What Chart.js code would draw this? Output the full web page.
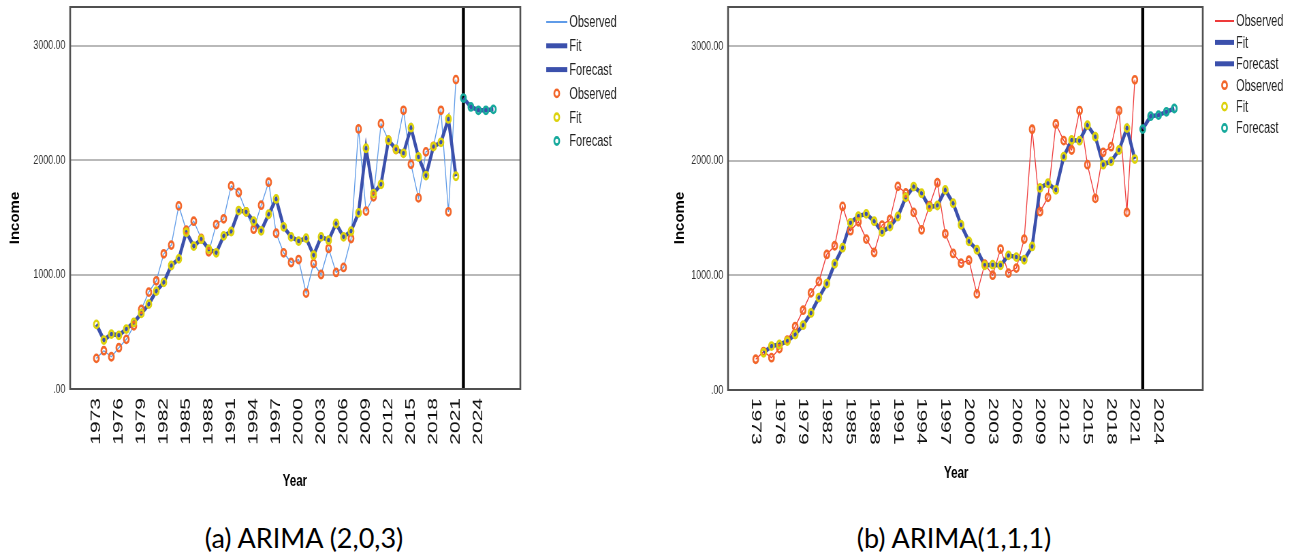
<!DOCTYPE html>
<html>
<head>
<meta charset="utf-8">
<script src="https://cdn.jsdelivr.net/npm/chart.js@4.4.1/dist/chart.umd.min.js"></script>
<style>
  html, body { margin: 0; padding: 0; background: #fff; }
  body { width: 1294px; height: 552px; position: relative; overflow: hidden; }
  canvas { position: absolute; top: 0; }
  .caption {
    position: absolute; top: 521px;
    font-family: Lato, "Open Sans", sans-serif; font-size: 27px; color: #000;
    white-space: nowrap; transform: translateX(-50%);
  }
</style>
</head>
<body>
<!-- canvases are drawn wide and shown squeezed, like the original narrow SPSS export -->
<canvas id="chartA" width="950" height="500" style="left:0px;width:647px;height:500px"></canvas>
<canvas id="chartB" width="950" height="500" style="left:647px;width:647px;height:500px"></canvas>
<div class="caption" style="left:304px">(a) ARIMA (2,0,3)</div>
<div class="caption" style="left:954px">(b) ARIMA(1,1,1)</div>
<script>
// Years of observed data and of the forecast
const years = [1973, 1974, 1975, 1976, 1977, 1978, 1979, 1980, 1981, 1982,
  1983, 1984, 1985, 1986, 1987, 1988, 1989, 1990, 1991, 1992,
  1993, 1994, 1995, 1996, 1997, 1998, 1999, 2000, 2001, 2002,
  2003, 2004, 2005, 2006, 2007, 2008, 2009, 2010, 2011, 2012,
  2013, 2014, 2015, 2016, 2017, 2018, 2019, 2020, 2021];
const forecastYears = [2022, 2023, 2024, 2025, 2026];
const forecastStart = 2022;

// Axis tick labels
const tickYears = [1973, 1976, 1979, 1982, 1985, 1988, 1991, 1994, 1997,
  2000, 2003, 2006, 2009, 2012, 2015, 2018, 2021, 2024];
const incomeTicks = [0, 1000, 2000, 3000];

// Observed income (same series in both panels)
const observed = [268, 335, 282, 361, 434, 553, 696, 847, 946, 1182,
  1258, 1601, 1389, 1467, 1316, 1199, 1438, 1488, 1776, 1718,
  1549, 1397, 1607, 1808, 1362, 1191, 1106, 1132, 838, 1098,
  1001, 1229, 1019, 1063, 1316, 2274, 1555, 1680, 2320, 2175,
  2093, 2437, 1965, 1671, 2073, 2122, 2437, 1549, 2705];

// (a) ARIMA(2,0,3)
const fitA = [565, 428, 480, 469, 524, 582, 661, 742, 856, 932,
  1080, 1138, 1371, 1249, 1310, 1223, 1191, 1339, 1377, 1560,
  1549, 1467, 1383, 1528, 1662, 1418, 1330, 1293, 1319, 1170,
  1330, 1301, 1447, 1330, 1380, 1540, 2105, 1709, 1790, 2175,
  2096, 2061, 2285, 2029, 1866, 2119, 2157, 2361, 1860];
const forecastA = [2544, 2466, 2437, 2437, 2445];

// (b) ARIMA(1,1,1) - no fitted value for the first year
const fitB = [null, 325, 383, 397, 426, 484, 565, 672, 806, 928,
  1101, 1241, 1458, 1516, 1536, 1472, 1377, 1426, 1513, 1681,
  1774, 1716, 1594, 1609, 1745, 1629, 1441, 1296, 1223, 1087,
  1093, 1087, 1174, 1159, 1136, 1252, 1762, 1803, 1745, 2035,
  2180, 2174, 2310, 2209, 1965, 1994, 2093, 2284, 2014];
const forecastB = [2275, 2388, 2397, 2426, 2455];

const FIT_BLUE = '#3b50ac';
const ORANGE = '#f2662a';
const YELLOW = '#dcd20c';
const TEAL = '#16a99c';
const FONT = '"Liberation Sans", Arial, sans-serif';

function toPoints(xs, ys) {
  return xs.map((x, i) => ({ x: x, y: ys[i] }));
}

function buildDatasets(obsColor, fit, forecast) {
  const ring = (color) => ({
    showLine: false, pointRadius: 3.6, pointHoverRadius: 3.6, pointBorderWidth: 2.6,
    pointBorderColor: color, pointBackgroundColor: 'rgba(0,0,0,0)', borderColor: color
  });
  return [
    { label: 'Observed', data: toPoints(years, observed), borderColor: obsColor, borderWidth: 1.3, pointRadius: 0, order: 5 },
    { label: 'Fit', data: toPoints(years, fit), borderColor: FIT_BLUE, borderWidth: 4.5, pointRadius: 0, order: 4 },
    { label: 'Forecast', data: toPoints(forecastYears, forecast), borderColor: FIT_BLUE, borderWidth: 4.5, pointRadius: 0, order: 3 },
    Object.assign({ label: 'Observed', data: toPoints(years, observed), order: 2 }, ring(ORANGE)),
    Object.assign({ label: 'Fit', data: toPoints(years, fit), order: 1 }, ring(YELLOW)),
    Object.assign({ label: 'Forecast', data: toPoints(forecastYears, forecast), order: 0 }, ring(TEAL))
  ];
}

// Frame, forecast marker line, rotated year labels, axis titles and legend
const panelDecor = {
  id: 'panelDecor',
  beforeDatasetsDraw(chart, args, o) {
    const ctx = chart.ctx;
    const a = chart.chartArea;
    const px = chart.scales.x.getPixelForValue(forecastStart);
    ctx.save();
    ctx.strokeStyle = '#000';
    ctx.lineWidth = 4.4;
    ctx.beginPath();
    ctx.moveTo(px, a.top);
    ctx.lineTo(px, a.bottom);
    ctx.stroke();
    ctx.restore();
  },
  afterDraw(chart, args, o) {
    const ctx = chart.ctx;
    const a = chart.chartArea;
    const xs = chart.scales.x;
    ctx.save();

    // plot frame
    ctx.strokeStyle = '#505050';
    ctx.lineWidth = 1.8;
    ctx.beginPath();
    ctx.moveTo(a.left, a.top); ctx.lineTo(a.right, a.top);
    ctx.moveTo(a.left, a.bottom); ctx.lineTo(a.right, a.bottom);
    ctx.stroke();
    ctx.lineWidth = 2.6;
    ctx.beginPath();
    ctx.moveTo(a.left, a.top - 0.9); ctx.lineTo(a.left, a.bottom + 0.9);
    ctx.moveTo(a.right, a.top - 0.9); ctx.lineTo(a.right, a.bottom + 0.9);
    ctx.stroke();

    // year labels
    ctx.fillStyle = '#111';
    ctx.font = '21px ' + FONT;
    ctx.textBaseline = 'middle';
    tickYears.forEach(yr => {
      ctx.save();
      ctx.translate(xs.getPixelForValue(yr), o.tickTop);
      if (o.tickDir < 0) {
        ctx.rotate(-Math.PI / 2);
        ctx.textAlign = 'right';
      } else {
        ctx.rotate(Math.PI / 2);
        ctx.textAlign = 'left';
      }
      ctx.fillText(String(yr), 0, 0);
      ctx.restore();
    });

    // axis titles
    ctx.fillStyle = '#000';
    ctx.textAlign = 'center';
    ctx.font = 'bold 17px ' + FONT;
    ctx.fillText('Year', o.xTitleX, o.xTitleY);
    ctx.save();
    ctx.translate(o.yTitleX, o.yTitleY);
    ctx.scale(1.35, 1); // the rotated title is less squeezed in the original
    ctx.rotate(-Math.PI / 2);
    ctx.font = 'bold 15px ' + FONT;
    ctx.fillText('Income', 0, 0);
    ctx.restore();

    // legend
    ctx.textAlign = 'left';
    ctx.font = '16px ' + FONT;
    chart.data.datasets.forEach((ds, i) => {
      const y = o.legendTop + i * o.legendStep;
      if (ds.showLine === false) {
        ctx.beginPath();
        ctx.arc(o.legendX + o.sampleLen / 2, y, ds.pointRadius, 0, Math.PI * 2);
        ctx.lineWidth = ds.pointBorderWidth;
        ctx.strokeStyle = ds.pointBorderColor;
        ctx.stroke();
      } else {
        ctx.beginPath();
        ctx.moveTo(o.legendX, y);
        ctx.lineTo(o.legendX + o.sampleLen, y);
        ctx.lineWidth = ds.borderWidth < 2 ? 2 : ds.borderWidth + 0.5;
        ctx.strokeStyle = ds.borderColor;
        ctx.stroke();
      }
      ctx.fillStyle = '#222';
      ctx.fillText(ds.label, o.legendX + o.sampleLen + o.textGap, y + 1);
    });
    ctx.restore();
  }
};

function makeChart(id, datasets, p) {
  const ctx = document.getElementById(id).getContext('2d');
  return new Chart(ctx, {
    type: 'line',
    data: { datasets: datasets },
    plugins: [panelDecor],
    options: {
      responsive: false,
      animation: false,
      devicePixelRatio: 1,
      events: [],
      layout: { padding: { left: 0, right: p.padRight, top: 7, bottom: 0 } },
      plugins: {
        legend: { display: false },
        tooltip: { enabled: false },
        panelDecor: p.decor
      },
      scales: {
        x: {
          type: 'linear',
          min: 1969.5,
          max: 2029.6,
          afterBuildTicks: s => { s.ticks = tickYears.map(v => ({ value: v })); },
          ticks: { display: false },
          grid: { display: false },
          border: { display: false },
          afterFit: s => {
            s.height = p.axisH;
            s.paddingLeft = 0; s.paddingRight = 0;
          }
        },
        y: {
          type: 'linear',
          min: 0,
          max: 3340,
          afterBuildTicks: s => { s.ticks = incomeTicks.map(v => ({ value: v })); },
          ticks: {
            callback: v => v === 0 ? '.00' : v.toFixed(2),
            font: { family: FONT, size: 13 },
            color: '#333',
            padding: 7
          },
          grid: {
            color: c => c.tick && c.tick.value === 0 ? 'rgba(0,0,0,0)' : '#b9b9b9',
            lineWidth: 2,
            drawTicks: false
          },
          border: { display: false },
          afterFit: s => {
            s.width = p.axisW;
            s.paddingTop = 0; s.paddingBottom = 0;
          }
        }
      }
    }
  });
}

makeChart('chartA', buildDatasets('#5f9be8', fitA, forecastA), {
  padRight: 186, axisW: 103, axisH: 111,
  decor: {
    tickTop: 398, tickDir: -1,
    xTitleX: 433, xTitleY: 481, yTitleX: 22, yTitleY: 218,
    legendX: 802, sampleLen: 31, textGap: 3, legendTop: 22, legendStep: 23.8
  }
});

makeChart('chartB', buildDatasets('#ee3a3a', fitB, forecastB), {
  padRight: 134, axisW: 119, axisH: 110,
  decor: {
    tickTop: 398, tickDir: 1,
    xTitleX: 454, xTitleY: 473, yTitleX: 48, yTitleY: 218,
    legendX: 834, sampleLen: 28, textGap: 3, legendTop: 21, legendStep: 21.4
  }
});
</script>
</body>
</html>
